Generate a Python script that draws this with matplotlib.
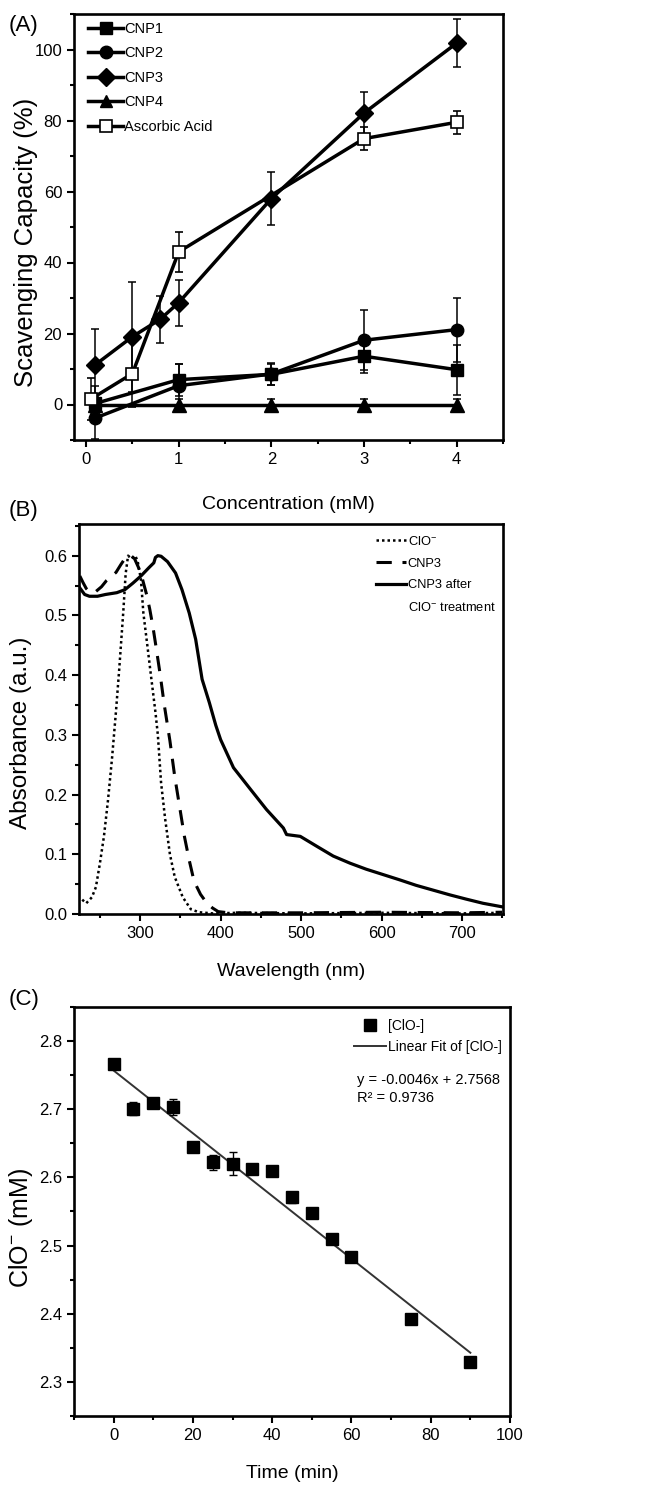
import matplotlib
matplotlib.use('Agg')
import matplotlib.pyplot as plt
from matplotlib.lines import Line2D
from matplotlib.ticker import MultipleLocator, FormatStrFormatter

plt.rcParams['font.family'] = ['Liberation Sans', 'DejaVu Sans']
plt.rcParams['mathtext.default'] = 'regular'

# ---------------- Panel A data ----------------
conc_cnp1 = [0.1, 1, 2, 3, 4]
cnp1 = [0.3, 7.0, 8.5, 13.6, 9.8]
cnp1_err = [5.0, 4.5, 3.0, 4.7, 7.0]
conc_cnp2 = [0.1, 1, 2, 3, 4]
cnp2 = [-3.8, 5.3, 8.6, 18.1, 21.1]
cnp2_err = [6.0, 6.0, 3.0, 8.5, 9.0]
conc_cnp3 = [0.1, 0.5, 0.8, 1, 2, 3, 4]
cnp3 = [11.2, 19.1, 24.0, 28.7, 58.0, 82.1, 101.8]
cnp3_err = [10.0, 15.5, 6.6, 6.5, 7.5, 6.0, 6.7]
conc_cnp4 = [0.1, 1, 2, 3, 4]
cnp4 = [0, 0, 0, 0, 0]
cnp4_err = [1.0, 1.5, 1.5, 1.5, 1.5]
conc_aa = [0.05, 0.5, 1, 3, 4]
aa = [1.5, 8.7, 43.0, 74.9, 79.5]
aa_err = [6.0, 9.5, 5.7, 3.2, 3.3]

# ---------------- Panel B data ----------------
clo_wl = [228, 233, 240, 245, 250, 255, 260, 265, 270, 274, 279, 282, 285, 289, 294, 297,
          301, 304, 309, 314, 319, 322, 326, 331, 337, 343, 353, 363, 373, 390, 420, 500,
          600, 700, 750]
clo_abs = [0.024, 0.018, 0.028, 0.045, 0.085, 0.13, 0.19, 0.26, 0.34, 0.41, 0.505, 0.57,
           0.60, 0.595, 0.60, 0.59, 0.56, 0.504, 0.449, 0.393, 0.338, 0.30, 0.22, 0.16,
           0.10, 0.062, 0.028, 0.008, 0.003, 0.001, 0.002, 0.001, 0.002, 0.001, 0.002]
cnp3_wl = [225, 229, 233, 238, 245, 252, 258, 264, 270, 276, 282, 288, 293, 298, 303, 308,
           312, 316, 320, 325, 330, 337, 343, 349, 355, 361, 367, 375, 383, 390, 397, 410,
           500, 600, 700, 750]
cnp3_abs = [0.566, 0.555, 0.545, 0.538, 0.54, 0.548, 0.558, 0.565, 0.572, 0.585, 0.597, 0.60,
            0.595, 0.58, 0.56, 0.535, 0.51, 0.48, 0.445, 0.40, 0.35, 0.29, 0.23, 0.18, 0.13,
            0.09, 0.055, 0.033, 0.018, 0.01, 0.004, 0.002, 0.002, 0.003, 0.002, 0.003]
treat_wl = [225, 231, 237, 247, 257, 271, 281, 291, 301, 311, 317, 319, 322, 326, 334, 344,
            352, 361, 369, 377, 386, 394, 400, 416, 437, 457, 478, 482, 499, 520, 540, 561,
            581, 602, 623, 643, 664, 685, 705, 726, 750]
treat_abs = [0.546, 0.535, 0.532, 0.532, 0.535, 0.538, 0.543, 0.554, 0.566, 0.58, 0.588,
             0.597, 0.600, 0.599, 0.59, 0.571, 0.543, 0.504, 0.46, 0.393, 0.354, 0.316,
             0.292, 0.245, 0.209, 0.175, 0.144, 0.133, 0.130, 0.113, 0.097, 0.085, 0.075,
             0.066, 0.057, 0.048, 0.040, 0.032, 0.025, 0.018, 0.012]

# ---------------- Panel C data ----------------
time_min = [0, 5, 10, 15, 20, 25, 30, 35, 40, 45, 50, 55, 60, 75, 90]
clo_mM = [2.766, 2.701, 2.709, 2.703, 2.644, 2.622, 2.620, 2.613, 2.610, 2.571, 2.548,
          2.510, 2.483, 2.392, 2.329]
clo_err = [0.006, 0.010, 0.003, 0.012, 0.003, 0.011, 0.017, 0.003, 0.003, 0.008, 0.004,
           0.003, 0.003, 0.003, 0.003]
fit_slope = -0.0046
fit_intercept = 2.7568
fit_range = [0, 90]

W, H = 653, 1487
fig = plt.figure(figsize=(W / 100, H / 100), dpi=100)


def rect(l, t, r, b):
    return [l / W, 1 - b / H, (r - l) / W, (b - t) / H]


def style(ax):
    for s in ax.spines.values():
        s.set_linewidth(1.9)
    ax.tick_params(which='both', direction='out', top=False, right=False,
                   labelsize=12, width=1.5)
    ax.tick_params(which='major', length=5)
    ax.tick_params(which='minor', length=3)


# ---------------- Panel A ----------------
axA = fig.add_axes(rect(74, 14, 503, 440))
common = dict(color='black', lw=2.5, elinewidth=1.1, capsize=3, capthick=1.1)
axA.errorbar(conc_cnp4, cnp4, yerr=cnp4_err, fmt='-^', ms=10, mfc='black', **common)
axA.errorbar(conc_cnp1, cnp1, yerr=cnp1_err, fmt='-s', ms=9, mfc='black', **common)
axA.errorbar(conc_cnp2, cnp2, yerr=cnp2_err, fmt='-o', ms=9, mfc='black', **common)
axA.errorbar(conc_aa, aa, yerr=aa_err, fmt='-s', ms=9, mfc='white', mec='black', mew=1.2, **common)
axA.errorbar(conc_cnp3, cnp3, yerr=cnp3_err, fmt='-D', ms=9, mfc='black', **common)
axA.set_xlim(-0.13, 4.5)
axA.set_ylim(-10, 110)
axA.xaxis.set_major_locator(MultipleLocator(1))
axA.xaxis.set_minor_locator(MultipleLocator(0.5))
axA.yaxis.set_major_locator(MultipleLocator(20))
axA.yaxis.set_minor_locator(MultipleLocator(10))
style(axA)
axA.set_xlabel('Concentration (mM)', fontsize=14, labelpad=21)
axA.set_ylabel('Scavenging Capacity (%)', fontsize=18.5)
axA.yaxis.set_label_coords(-0.085, 0.465)
hA = [Line2D([], [], color='black', lw=2.5, marker='s', ms=9),
      Line2D([], [], color='black', lw=2.5, marker='o', ms=9),
      Line2D([], [], color='black', lw=2.5, marker='D', ms=9),
      Line2D([], [], color='black', lw=2.5, marker='^', ms=9),
      Line2D([], [], color='black', lw=2.5, marker='s', ms=9, mfc='white', mew=1.2)]
axA.legend(hA, ['CNP1', 'CNP2', 'CNP3', 'CNP4', 'Ascorbic Acid'], loc='upper left',
           frameon=False, fontsize=10.5, handlelength=2.4, labelspacing=0.72,
           handletextpad=0.05, borderaxespad=0.0, bbox_to_anchor=(0.02, 0.995))
fig.text(9 / W, 1 - 26 / H, '(A)', fontsize=16, va='center', ha='left')

# ---------------- Panel B ----------------
axB = fig.add_axes(rect(79, 524, 503, 914))
axB.plot(clo_wl, clo_abs, color='black', lw=1.8, ls=(0, (1, 1.2)))
axB.plot(cnp3_wl, cnp3_abs, color='black', lw=2.2, ls=(0, (5, 3.5)))
axB.plot(treat_wl, treat_abs, color='black', lw=2.3, ls='-')
axB.set_xlim(224, 751)
axB.set_ylim(0, 0.653)
axB.xaxis.set_major_locator(MultipleLocator(100))
axB.xaxis.set_minor_locator(MultipleLocator(50))
axB.yaxis.set_major_locator(MultipleLocator(0.1))
axB.yaxis.set_minor_locator(MultipleLocator(0.05))
axB.yaxis.set_major_formatter(FormatStrFormatter('%.1f'))
style(axB)
axB.set_xlabel('Wavelength (nm)', fontsize=14, labelpad=16)
axB.set_ylabel('Absorbance (a.u.)', fontsize=17.5)
axB.yaxis.set_label_coords(-0.112, 0.464)
hB = [Line2D([], [], color='black', lw=1.8, ls=(0, (1, 1.2))),
      Line2D([], [], color='black', lw=2.2, ls=(0, (5, 3.5))),
      Line2D([], [], color='black', lw=2.3),
      Line2D([], [], color='none')]
axB.legend(hB, ['ClO$^{-}$', 'CNP3', 'CNP3 after', 'ClO$^{-}$ treatment'],
           loc='upper right', frameon=False, fontsize=9.3, handlelength=2.3,
           labelspacing=0.75, handletextpad=0.15, borderaxespad=0.0,
           bbox_to_anchor=(0.995, 0.985))
fig.text(9 / W, 1 - 510 / H, '(B)', fontsize=16, va='center', ha='left')

# ---------------- Panel C ----------------
axC = fig.add_axes(rect(74, 1007, 510, 1416))
axC.errorbar(time_min, clo_mM, yerr=clo_err, fmt='s', color='black', ms=9,
             elinewidth=1.0, capsize=3, capthick=1.0, zorder=3)
fit_y = [fit_slope * x + fit_intercept for x in fit_range]
axC.plot(fit_range, fit_y, color='#333333', lw=1.4, zorder=2)
axC.set_xlim(-10, 100)
axC.set_ylim(2.25, 2.85)
axC.xaxis.set_major_locator(MultipleLocator(20))
axC.xaxis.set_minor_locator(MultipleLocator(10))
axC.yaxis.set_major_locator(MultipleLocator(0.1))
axC.yaxis.set_minor_locator(MultipleLocator(0.05))
axC.yaxis.set_major_formatter(FormatStrFormatter('%.1f'))
style(axC)
axC.set_xlabel('Time (min)', fontsize=14, labelpad=16)
axC.set_ylabel('ClO$^{-}$ (mM)', fontsize=18)
axC.yaxis.set_label_coords(-0.09, 0.46)
hC = [Line2D([], [], color='black', ls='none', marker='s', ms=8),
      Line2D([], [], color='#333333', lw=1.4)]
axC.legend(hC, ['[ClO-]', 'Linear Fit of [ClO-]'], loc='upper right', frameon=False,
           fontsize=10, handlelength=2.3, labelspacing=0.5, handletextpad=0.2,
           borderaxespad=0.0, bbox_to_anchor=(0.995, 0.985))
axC.text(0.648, 0.80, 'y = -0.0046x + 2.7568\nR\u00b2 = 0.9736', transform=axC.transAxes,
         fontsize=10.5, va='center', ha='left', linespacing=1.35)
fig.text(9 / W, 1 - 1000 / H, '(C)', fontsize=16, va='center', ha='left')

fig.savefig('out.png', dpi=100)
